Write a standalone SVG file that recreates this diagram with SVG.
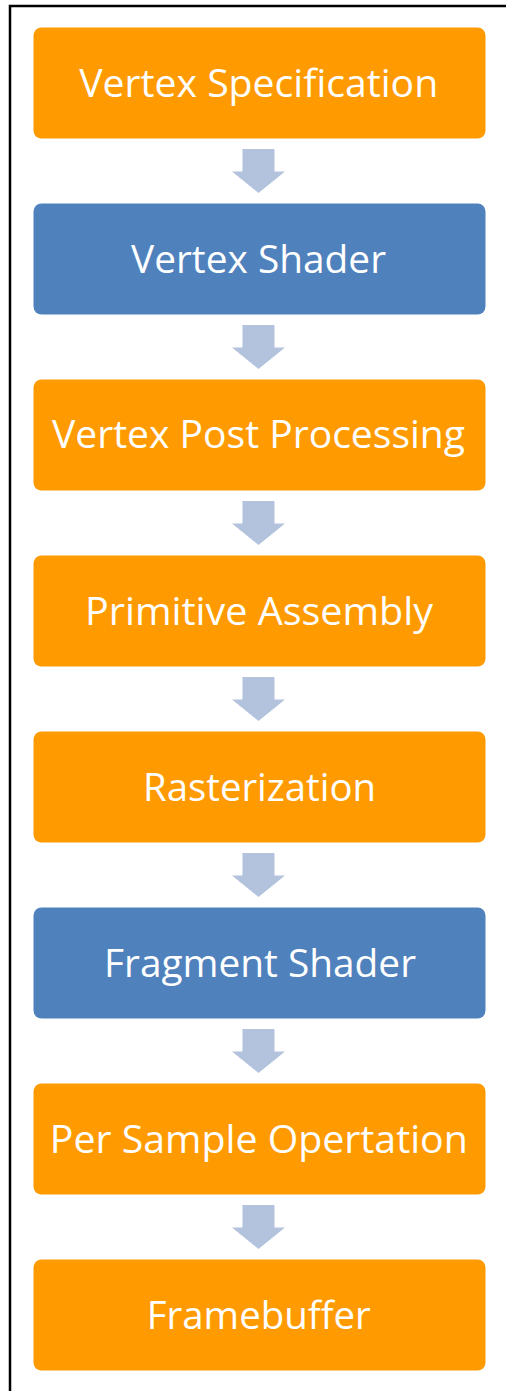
<svg xmlns="http://www.w3.org/2000/svg" width="506" height="1391" viewBox="0 0 506 1391">
  <style>
    .stage rect { rx: 8px; ry: 8px; }
    .orange rect { fill: #FF9B00; }
    .blue rect { fill: #4F81BD; }
    .stage text { fill: #FFFFFF; font-family: "Open Sans", "Noto Sans", "Liberation Sans", sans-serif; font-size: 38px; text-anchor: middle; }
    .arrow { fill: #B3C3DD; }
    .frame { fill: none; stroke: #000000; stroke-width: 2.5; }
  </style>
  <defs>
    <!-- block arrow pointing down, origin at top centre of the shaft -->
    <path id="down" d="M-16,0 H16 V22.5 H26.5 L0,44 L-26.5,22.5 H-16 Z"/>
  </defs>

  <rect x="0" y="0" width="506" height="1391" fill="#FFFFFF"/>
  <path class="frame" d="M10,1391 V6 H506"/>

  <g id="connectors" class="arrow">
    <use href="#down" x="258.5" y="149"/>
    <use href="#down" x="258.5" y="325"/>
    <use href="#down" x="258.5" y="501"/>
    <use href="#down" x="258.5" y="677"/>
    <use href="#down" x="258.5" y="853"/>
    <use href="#down" x="258.5" y="1029"/>
    <use href="#down" x="258.5" y="1205"/>
  </g>

  <g id="vertex-specification" class="stage orange">
    <rect x="33.5" y="27.5" width="452" height="111"/>
    <text x="258.7" y="96.5" textLength="359" lengthAdjust="spacingAndGlyphs">Vertex Specification</text>
  </g>
  <g id="vertex-shader" class="stage blue">
    <rect x="33.5" y="203.5" width="452" height="111"/>
    <text x="258.5" y="272.5" textLength="255" lengthAdjust="spacingAndGlyphs">Vertex Shader</text>
  </g>
  <g id="vertex-post-processing" class="stage orange">
    <rect x="33.5" y="379.5" width="452" height="111"/>
    <text x="258.5" y="448" textLength="413" lengthAdjust="spacingAndGlyphs">Vertex Post Processing</text>
  </g>
  <g id="primitive-assembly" class="stage orange">
    <rect x="33.5" y="555.5" width="452" height="111"/>
    <text x="259" y="624.5" textLength="348" lengthAdjust="spacingAndGlyphs">Primitive Assembly</text>
  </g>
  <g id="rasterization" class="stage orange">
    <rect x="33.5" y="731.5" width="452" height="111"/>
    <text x="259.5" y="800.5" textLength="233" lengthAdjust="spacingAndGlyphs">Rasterization</text>
  </g>
  <g id="fragment-shader" class="stage blue">
    <rect x="33.5" y="907.5" width="452" height="111"/>
    <text x="260" y="976.5" textLength="312" lengthAdjust="spacingAndGlyphs">Fragment Shader</text>
  </g>
  <g id="per-sample-operation" class="stage orange">
    <rect x="33.5" y="1083.5" width="452" height="111"/>
    <text x="258.8" y="1152.5" textLength="418" lengthAdjust="spacingAndGlyphs">Per Sample Opertation</text>
  </g>
  <g id="framebuffer" class="stage orange">
    <rect x="33.5" y="1259.5" width="452" height="111"/>
    <text x="258.8" y="1328.5" textLength="224" lengthAdjust="spacingAndGlyphs">Framebuffer</text>
  </g>
</svg>
